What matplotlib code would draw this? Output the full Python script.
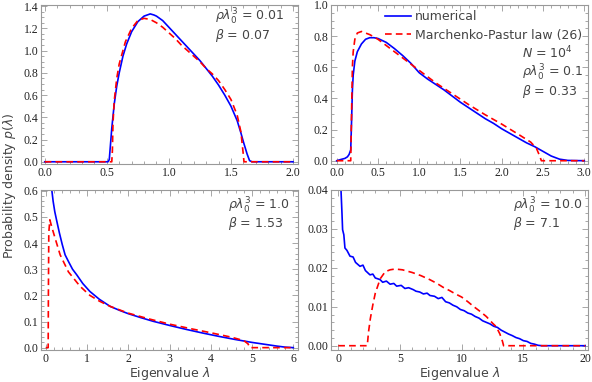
import numpy as np
import matplotlib
matplotlib.use('Agg')
from matplotlib import pyplot as plt
from matplotlib.ticker import MultipleLocator, FormatStrFormatter

# panel 1: rho*lambda0^3 = 0.01
x1_num = [0.0, 0.51, 0.52, 0.54, 0.56, 0.58, 0.60, 0.63, 0.66, 0.70, 0.75, 0.80, 0.85, 0.88,
          0.90, 0.95, 1.00, 1.05, 1.10, 1.15, 1.20, 1.25, 1.30, 1.35, 1.40, 1.45, 1.50, 1.55,
          1.58, 1.60, 1.63, 1.65, 1.67, 2.0]
y1_num = [0.0, 0.0, 0.02, 0.30, 0.52, 0.68, 0.80, 0.95, 1.06, 1.17, 1.26, 1.31, 1.33, 1.32,
          1.31, 1.27, 1.21, 1.15, 1.09, 1.03, 0.97, 0.91, 0.84, 0.77, 0.69, 0.60, 0.50, 0.37,
          0.26, 0.18, 0.07, 0.01, 0.0, 0.0]
x1_mp = [0.0, 0.54, 0.545, 0.55, 0.56, 0.58, 0.60, 0.65, 0.70, 0.75, 0.80, 0.85, 0.90, 0.95,
         1.00, 1.05, 1.10, 1.15, 1.20, 1.25, 1.30, 1.35, 1.40, 1.45, 1.50, 1.55, 1.58, 1.60,
         1.605, 2.0]
y1_mp = [0.0, 0.0, 0.10, 0.35, 0.55, 0.75, 0.88, 1.08, 1.20, 1.27, 1.29, 1.28, 1.25, 1.21,
         1.16, 1.11, 1.05, 1.00, 0.95, 0.90, 0.84, 0.79, 0.73, 0.65, 0.56, 0.42, 0.27, 0.06,
         0.0, 0.0]

# panel 2: rho*lambda0^3 = 0.1
x2_num = [0.0, 0.05, 0.10, 0.13, 0.15, 0.17, 0.18, 0.19, 0.20, 0.22, 0.25, 0.30, 0.35, 0.40,
          0.45, 0.50, 0.60, 0.70, 0.80, 0.90, 1.00, 1.10, 1.20, 1.30, 1.40, 1.50, 1.60, 1.70,
          1.80, 1.90, 2.00, 2.10, 2.20, 2.30, 2.40, 2.50, 2.60, 2.70, 2.80, 3.0]
y2_num = [0.0, 0.008, 0.015, 0.025, 0.04, 0.07, 0.25, 0.45, 0.55, 0.64, 0.70, 0.75, 0.78, 0.79,
          0.79, 0.785, 0.76, 0.72, 0.675, 0.625, 0.565, 0.525, 0.49, 0.455, 0.415, 0.375, 0.34,
          0.305, 0.27, 0.24, 0.205, 0.175, 0.145, 0.115, 0.09, 0.06, 0.03, 0.01, 0.002, 0.0]
x2_mp = [0.0, 0.17, 0.18, 0.19, 0.20, 0.22, 0.25, 0.30, 0.35, 0.40, 0.50, 0.60, 0.70, 0.80,
         0.90, 1.00, 1.20, 1.40, 1.60, 1.80, 2.00, 2.20, 2.35, 2.42, 2.46, 2.48, 3.0]
y2_mp = [0.0, 0.0, 0.30, 0.60, 0.70, 0.78, 0.82, 0.83, 0.82, 0.81, 0.78, 0.74, 0.70, 0.66,
         0.62, 0.58, 0.50, 0.43, 0.36, 0.295, 0.235, 0.17, 0.12, 0.08, 0.03, 0.0, 0.0]

# panel 3: rho*lambda0^3 = 1.0
x3_num = [0.15, 0.18, 0.22, 0.27, 0.33, 0.40, 0.47, 0.55, 0.65, 0.75, 0.90, 1.07, 1.30, 1.56,
          1.80, 2.00, 2.30, 2.60, 3.00, 3.40, 3.80, 4.20, 4.60, 5.00, 5.30, 5.60, 5.80, 6.0]
y3_num = [0.60, 0.56, 0.52, 0.483, 0.44, 0.395, 0.355, 0.33, 0.30, 0.279, 0.245, 0.215, 0.185,
          0.158, 0.142, 0.13, 0.115, 0.101, 0.085, 0.07, 0.056, 0.043, 0.031, 0.02, 0.013,
          0.006, 0.002, 0.0]
x3_mp = [0.0, 0.06, 0.065, 0.075, 0.10, 0.15, 0.225, 0.35, 0.55, 0.83, 1.07, 1.30, 1.56, 2.0,
         2.5, 3.0, 3.5, 4.0, 4.5, 4.8, 4.9, 4.95, 6.0]
y3_mp = [0.0, 0.0, 0.20, 0.44, 0.489, 0.46, 0.42, 0.355, 0.29, 0.235, 0.20, 0.178, 0.158, 0.132,
         0.11, 0.09, 0.073, 0.057, 0.04, 0.027, 0.015, 0.0, 0.0]

# panel 4: rho*lambda0^3 = 10.0
x4_num = [0.22, 0.30, 0.35, 0.45, 0.54, 0.70, 0.95, 1.2, 1.4, 1.76, 2.0, 2.2, 2.57, 2.8, 3.0,
          3.38, 3.6, 3.9, 4.2, 4.5, 4.73, 5.1, 5.4, 5.7, 6.08, 6.3, 6.6, 6.9, 7.2, 7.43, 7.8,
          8.1, 8.4, 8.7, 9.0, 9.3, 9.6, 9.9, 10.2, 10.5, 10.8, 11.1, 11.4, 11.7, 12.0, 12.3,
          12.6, 12.9, 13.2, 13.5, 13.8, 14.1, 14.4, 14.7, 15.0, 15.3, 15.6, 15.9, 16.2, 16.5,
          17.0, 20.0]
y4_num = [0.040, 0.034, 0.0298, 0.0285, 0.0251, 0.0245, 0.0230, 0.0228, 0.0214, 0.0204, 0.0207,
          0.0193, 0.0182, 0.0184, 0.0174, 0.0170, 0.0163, 0.0166, 0.0158, 0.0160, 0.0153,
          0.0155, 0.0147, 0.0149, 0.0144, 0.0140, 0.0138, 0.0133, 0.0135, 0.0129, 0.0127,
          0.0121, 0.0124, 0.0113, 0.0110, 0.0104, 0.0100, 0.0093, 0.0090, 0.0084, 0.0081,
          0.0075, 0.0071, 0.0064, 0.0060, 0.0056, 0.0050, 0.0047, 0.0040, 0.0035, 0.0030,
          0.0026, 0.0021, 0.0018, 0.0013, 0.0011, 0.0006, 0.0004, 0.0001, 0.0, 0.0, 0.0]
x4_mp = [0.0, 2.35, 2.45, 2.6, 2.8, 3.0, 3.4, 3.8, 4.2, 4.6, 5.2, 6.0, 6.7, 7.4, 8.0, 8.5, 9.0,
         9.5, 10.0, 10.5, 11.0, 11.5, 12.0, 12.5, 12.8, 13.1, 13.3, 13.4, 20.0]
y4_mp = [0.0, 0.0, 0.0035, 0.0070, 0.0105, 0.0135, 0.0172, 0.0190, 0.0195, 0.0197, 0.0195,
         0.0188, 0.0180, 0.0170, 0.0160, 0.0150, 0.0142, 0.0133, 0.0125, 0.0113, 0.0100,
         0.0088, 0.0075, 0.0058, 0.0049, 0.0030, 0.0012, 0.0, 0.0]

plt.rcParams['font.family'] = 'DejaVu Sans'
plt.rcParams['mathtext.fontset'] = 'dejavusans'

fig = plt.figure(figsize=(5.92, 3.82), dpi=100)
W, H = 592, 382

def make_ax(l, r, t, b):
    return fig.add_axes([l / W, 1 - b / H, (r - l) / W, (b - t) / H])

ax1 = make_ax(41, 298, 5, 164)
ax2 = make_ax(331, 588, 5, 164)
ax3 = make_ax(41, 298, 190, 350)
ax4 = make_ax(331, 588, 190, 350)

blue = '#0000ff'
red = '#ff0000'
txt_col = '#444444'

panels = [
    (ax1, x1_num, y1_num, x1_mp, y1_mp, (-0.03, 2.04), (-0.02, 1.41), 0.5, 0.1, 0.2, 0.05, '%.1f', '%.1f'),
    (ax2, x2_num, y2_num, x2_mp, y2_mp, (-0.069, 3.045), (-0.021, 1.0), 0.5, 0.1, 0.2, 0.05, '%.1f', '%.1f'),
    (ax3, x3_num, y3_num, x3_mp, y3_mp, (-0.114, 6.114), (-0.009, 0.603), 1, 0.2, 0.1, 0.02, '%d', '%.1f'),
    (ax4, x4_num, y4_num, x4_mp, y4_mp, (-0.59, 20.24), (-0.0011, 0.04), 5, 1, 0.01, 0.002, '%d', '%.2f'),
]

for (ax, xn, yn, xm, ym, xl, yl, xmaj, xmin, ymaj, ymin, xf, yf) in panels:
    ax.plot(xn, yn, color=blue, lw=1.2, label='numerical', zorder=2)
    ax.plot(xm, ym, color=red, lw=1.2, ls=(0, (4, 2.5)), label='Marchenko-Pastur law (26)', zorder=3)
    ax.set_xlim(*xl)
    ax.set_ylim(*yl)
    ax.xaxis.set_major_locator(MultipleLocator(xmaj))
    ax.xaxis.set_minor_locator(MultipleLocator(xmin))
    ax.yaxis.set_major_locator(MultipleLocator(ymaj))
    ax.yaxis.set_minor_locator(MultipleLocator(ymin))
    ax.xaxis.set_major_formatter(FormatStrFormatter(xf))
    ax.yaxis.set_major_formatter(FormatStrFormatter(yf))
    ax.tick_params(which='both', direction='in', top=True, right=True, colors='#999999',
                   labelcolor='#222222', width=0.6)
    ax.tick_params(which='major', length=4, pad=2)
    ax.tick_params(which='minor', length=2)
    for lab in ax.get_xticklabels() + ax.get_yticklabels():
        lab.set_family('Liberation Serif')
        lab.set_fontsize(8.5)
    for s in ax.spines.values():
        s.set_color('#999999')
        s.set_linewidth(0.8)

def note(ax, x, y, s):
    ax.text(x, y, s, transform=ax.transAxes, fontsize=9, color=txt_col, va='center', ha='left')

note(ax1, (215 - 41) / 257, (164 - 17) / 159, r'$\rho\lambda_0^3$ = 0.01')
note(ax1, (215 - 41) / 257, (164 - 36) / 159, r'$\beta$ = 0.07')
note(ax2, (522 - 331) / 257, (164 - 53) / 159, r'$N$ = 10$^4$')
note(ax2, (522 - 331) / 257, (164 - 73) / 159, r'$\rho\lambda_0^3$ = 0.1')
note(ax2, (522 - 331) / 257, (164 - 91) / 159, r'$\beta$ = 0.33')
note(ax3, (228 - 41) / 257, (350 - 206) / 160, r'$\rho\lambda_0^3$ = 1.0')
note(ax3, (228 - 41) / 257, (350 - 224) / 160, r'$\beta$ = 1.53')
note(ax4, (513 - 331) / 257, (350 - 206) / 160, r'$\rho\lambda_0^3$ = 10.0')
note(ax4, (513 - 331) / 257, (350 - 224) / 160, r'$\beta$ = 7.1')

ax2.legend(loc='upper left', bbox_to_anchor=((380 - 331) / 257, 1.0), frameon=False,
           fontsize=9, handlelength=2.1, handletextpad=0.3, labelspacing=0.45,
           borderaxespad=0, labelcolor=txt_col)

fig.text((41 + 298) / 2 / W, 1 - 374 / H, r'Eigenvalue $\lambda$', fontsize=9, color=txt_col,
         ha='center', va='center')
fig.text((331 + 588) / 2 / W, 1 - 374 / H, r'Eigenvalue $\lambda$', fontsize=9, color=txt_col,
         ha='center', va='center')
fig.text(10 / W, 1 - 186 / H, r'Probability density $p(\lambda)$', rotation=90, fontsize=9,
         color=txt_col, ha='center', va='center')

fig.savefig('out.png', dpi=100)
